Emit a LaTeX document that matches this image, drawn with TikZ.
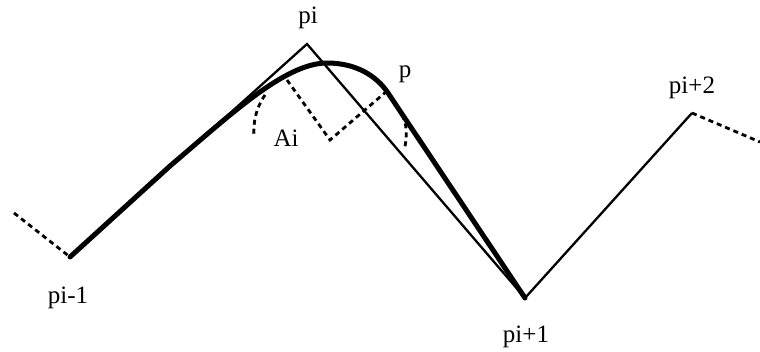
\documentclass[tikz,border=0pt]{standalone}
\usepackage{fontspec}
\setmainfont{Liberation Serif}
\begin{document}
\begin{tikzpicture}[x=1pt,y=-1pt,
  thinline/.style={line width=2.3pt,line join=miter},
  thickline/.style={line width=5pt,line cap=round,line join=round},
  dashline/.style={line width=2.8pt,dash pattern=on 5pt off 4pt},
  lbl/.style={font=\fontsize{25}{27}\selectfont,inner sep=0pt}]
\useasboundingbox (0,0) rectangle (760,352);
\coordinate (pm1) at (70,257);
\coordinate (pi) at (307,44);
\coordinate (pp1) at (525,298);
\coordinate (pp2) at (692,113);
\coordinate (lend) at (14,213);
\coordinate (rend) at (760,142);
\coordinate (A) at (287,80);
\coordinate (C) at (330,140);
\coordinate (P) at (387,91);
% polygon
\draw[thinline] (pm1) -- (pi) -- (pp1) -- (pp2);
\draw[dashline] (lend) -- (pm1);
\draw[dashline] (pp2) -- (rend);
% smoothed curve
\draw[thickline] (pm1) -- (170,166) .. controls (230,115) and (285,63) .. (327,63)
  .. controls (355,63) and (376,75) .. (388,93) -- (pp1);
% normals
\draw[dashline] (A) -- (C) -- (P);
% arcs
\draw[dashline] (265,95) .. controls (256,108) and (253,122) .. (254,137);
\draw[dashline] (402,115) .. controls (407,124) and (407,135) .. (405,147);
% labels
\node[lbl] (lpi) at (308,18) {pi};
\node[lbl] (lp) at (405,74) {p};
\node[lbl] (lAi) at (286,138) {Ai};
\node[lbl] (lpm1) at (68,298) {pi-1};
\node[lbl] (lpp1) at (526,337) {pi+1};
\node[lbl] (lpp2) at (692,88) {pi+2};
\end{tikzpicture}
\end{document}
